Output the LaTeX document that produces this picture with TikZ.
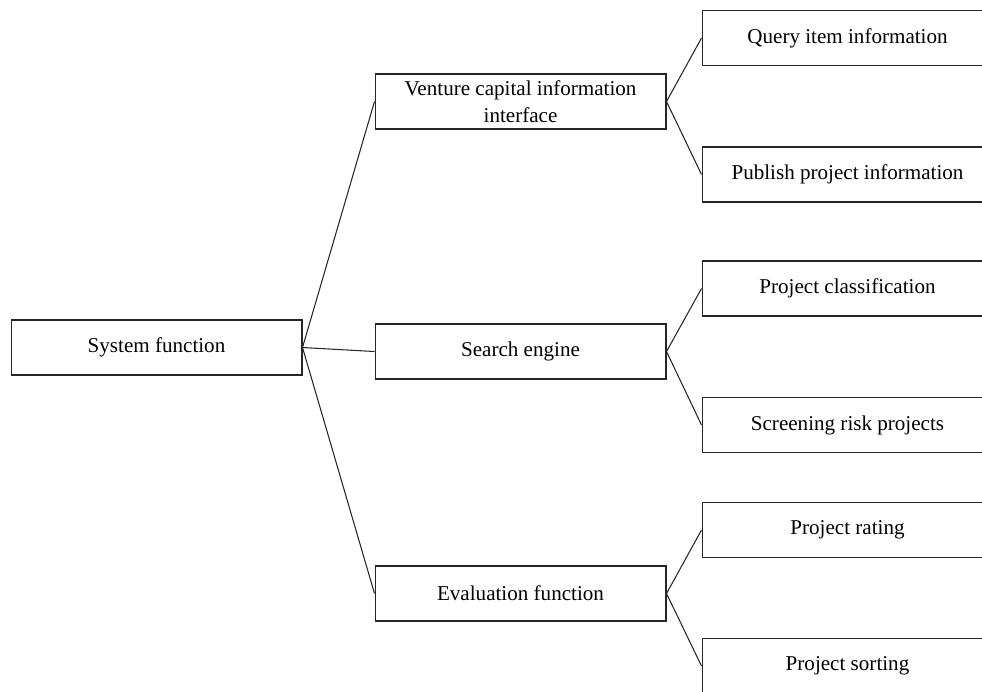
\documentclass[tikz,border=0pt]{standalone}
\usepackage{fontspec}
\setmainfont{Liberation Serif}
\tikzset{
  box/.style={draw=black!85, line width=0.6pt, minimum width=5.82cm, minimum height=1.1cm,
    inner sep=2pt, align=center, font=\fontsize{12}{15}\selectfont},
  link/.style={draw=black!85, line width=0.6pt}
}
\begin{document}
\begin{tikzpicture}[x=0.02cm,y=-0.02cm]
        \useasboundingbox (0,0) rectangle (982,691);
        \clip (0,0) rectangle (982,691);
        % root
        \node[box] (sysfun) at (156.5,347.5) {System function};
        % second level
        \node[box] (venture) at (520.5,101.5) {Venture capital information\\interface};
        \node[box] (search) at (520.5,351.5) {Search engine};
        \node[box] (evalfun) at (520.5,593.5) {Evaluation function};
        % leaves
        \node[box] (query) at (847.5,38) {Query item information};
        \node[box] (publish) at (847.5,174.5) {Publish project information};
        \node[box] (classif) at (847.5,288.5) {Project classification};
        \node[box] (screen) at (847.5,425) {Screening risk projects};
        \node[box] (rating) at (847.5,530) {Project rating};
        \node[box] (sorting) at (847.5,666) {Project sorting};
        \draw[link] (sysfun.east) -- (venture.west);
        \draw[link] (sysfun.east) -- (search.west);
        \draw[link] (sysfun.east) -- (evalfun.west);
        \draw[link] (venture.east) -- (query.west);
        \draw[link] (venture.east) -- (publish.west);
        \draw[link] (search.east) -- (classif.west);
        \draw[link] (search.east) -- (screen.west);
        \draw[link] (evalfun.east) -- (rating.west);
        \draw[link] (evalfun.east) -- (sorting.west);
      \end{tikzpicture}
\end{document}
